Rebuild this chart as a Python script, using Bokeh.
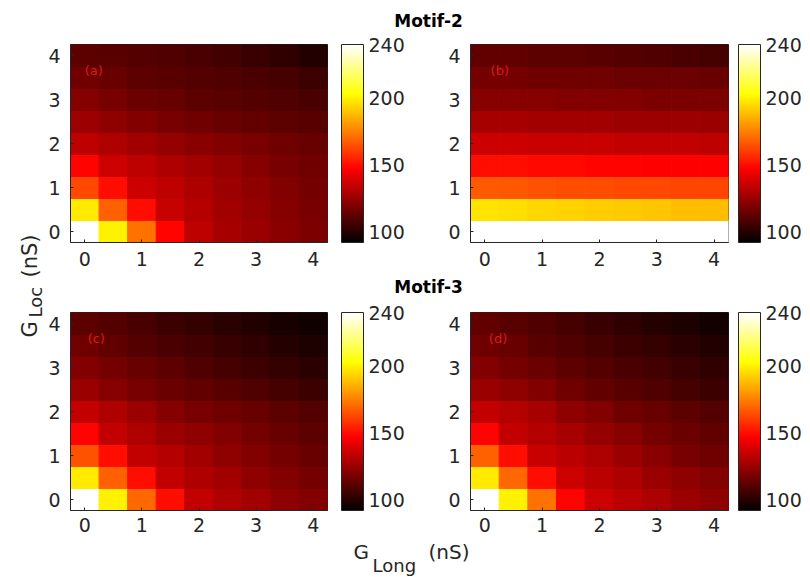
import math
import numpy as np
from bokeh.plotting import figure
from bokeh.models import (ColumnDataSource, LinearColorMapper, ColorBar,
                          FixedTicker, Range1d, Label)
from bokeh.layouts import row, column
from bokeh.transform import transform
from bokeh.embed import file_html
from bokeh.resources import INLINE

# ---------------- data ----------------
g_values = [0, 0.5, 1, 1.5, 2, 2.5, 3, 3.5, 4]      # grid of G_Long (x) and G_Loc (y), nS
axis_ticks = [0, 1, 2, 3, 4]
cbar_ticks = [100, 150, 200, 240]
c_low, c_high = 92, 240

# rows: G_Loc = 0 ... 4 ; columns: G_Long = 0 ... 4
motif2_a = [
    [240, 200, 172, 148, 133, 128, 125, 122, 119],
    [198, 168, 150, 135, 131, 127, 124, 121, 118],
    [163, 150, 136, 133, 130, 126, 123, 120, 117],
    [148, 136, 133, 130, 127, 124, 121, 118, 116],
    [133, 130, 127, 124, 122, 120, 118, 116, 114],
    [126, 123, 120, 118, 116, 114, 113, 112, 111],
    [121, 118, 115, 114, 112, 111, 110, 109, 108],
    [116, 114, 112, 111, 110, 109, 108, 107, 105],
    [112, 111, 110, 109, 108, 106, 104, 102, 99],
]
motif2_b = [
    [240, 240, 240, 240, 240, 240, 240, 240, 240],
    [197, 196, 194, 193, 192, 191, 190, 189, 188],
    [167, 166, 165, 164, 164, 163, 163, 162, 162],
    [150, 150, 149, 149, 148, 148, 147, 147, 147],
    [136, 136, 135, 135, 135, 134, 134, 134, 133],
    [128, 128, 127, 127, 127, 126, 126, 126, 125],
    [121, 121, 121, 120, 120, 120, 119, 119, 119],
    [117, 117, 116, 116, 116, 115, 115, 115, 114],
    [113, 113, 112, 112, 111, 110, 109, 108, 107],
]
motif3_c = [
    [240, 200, 170, 150, 134, 130, 127, 123, 120],
    [198, 168, 150, 134, 130, 127, 123, 120, 117],
    [165, 150, 134, 131, 127, 123, 120, 117, 114],
    [148, 134, 130, 125, 123, 120, 117, 114, 112],
    [134, 130, 125, 121, 118, 116, 114, 112, 110],
    [125, 121, 118, 115, 113, 111, 109, 107, 105],
    [120, 117, 114, 112, 109, 107, 105, 103, 101],
    [116, 113, 110, 108, 106, 104, 102, 100, 98],
    [112, 110, 108, 105, 103, 101, 99, 97, 95],
]
motif3_d = [
    [240, 200, 172, 148, 136, 132, 129, 125, 123],
    [198, 170, 150, 136, 132, 129, 125, 123, 120],
    [168, 150, 135, 132, 129, 125, 122, 118, 116],
    [148, 134, 131, 128, 124, 121, 117, 115, 113],
    [134, 131, 128, 123, 120, 116, 114, 112, 110],
    [125, 123, 120, 116, 113, 111, 109, 107, 105],
    [120, 117, 115, 112, 110, 108, 106, 104, 102],
    [116, 114, 111, 109, 107, 105, 103, 101, 99],
    [113, 111, 109, 107, 104, 102, 100, 98, 96],
]
panel_tags = ["(a)", "(b)", "(c)", "(d)"]
titles = ["Motif-2", "Motif-3"]

# ---------------- style ----------------
FONT = "DejaVu Sans"
AX = "#262626"
TICK_SIZE = "19px"
FRAME_H = 198


def hot_palette(m=256):
    n = int(3 * m / 8)
    r = np.concatenate([np.arange(1, n + 1) / n, np.ones(m - n)])
    g = np.concatenate([np.zeros(n), np.arange(1, n + 1) / n, np.ones(m - 2 * n)])
    b = np.concatenate([np.zeros(2 * n), np.arange(1, m - 2 * n + 1) / (m - 2 * n)])
    return ["#%02x%02x%02x" % (int(round(rr * 255)), int(round(gg * 255)), int(round(bb * 255)))
            for rr, gg, bb in zip(r, g, b)]


mapper = LinearColorMapper(palette=hot_palette(), low=c_low, high=c_high)


def heat_fig(grid, tag, tag_x, w, h, bl, br, bt, bb, cb_dx, x_standoff):
    xs, ys, vs = [], [], []
    for j, yv in enumerate(g_values):
        for i, xv in enumerate(g_values):
            xs.append(xv)
            ys.append(yv)
            vs.append(grid[j][i])
    src = ColumnDataSource(dict(x=xs, y=ys, v=vs))
    p = figure(width=w, height=h, x_range=Range1d(-0.25, 4.25), y_range=Range1d(-0.25, 4.25),
               output_backend="svg", toolbar_location=None,
               min_border_left=bl, min_border_right=br, min_border_top=bt, min_border_bottom=bb)
    p.rect("x", "y", width=0.5, height=0.5, source=src,
           fill_color=transform("v", mapper), line_color=transform("v", mapper), line_width=1)
    p.grid.visible = False
    p.outline_line_color = AX
    p.outline_line_width = 1
    for ax in (p.xaxis[0], p.yaxis[0]):
        ax.ticker = FixedTicker(ticks=axis_ticks)
        ax.major_label_text_font = FONT
        ax.major_label_text_font_size = TICK_SIZE
        ax.major_label_text_color = AX
        ax.axis_line_color = AX
        ax.major_tick_line_color = AX
        ax.major_tick_in = 3
        ax.major_tick_out = 0
        ax.minor_tick_line_color = None
    p.xaxis.major_label_standoff = x_standoff
    p.yaxis.major_label_standoff = 10
    p.add_layout(Label(x=tag_x, y=3.49, text=tag, text_font=FONT, text_font_size="13px",
                       text_baseline="bottom", text_color="#d41c1c"))
    cb = ColorBar(color_mapper=mapper, ticker=FixedTicker(ticks=cbar_ticks), width=22, height=FRAME_H,
                  location=(cb_dx, 0), margin=0, padding=0, label_standoff=5,
                  major_label_text_font=FONT, major_label_text_font_size=TICK_SIZE,
                  major_label_text_color=AX, major_tick_line_color=None,
                  bar_line_color=AX, background_fill_alpha=0, border_line_color=None)
    p.add_layout(cb, "right")
    return p


def text_fig(w, h):
    p = figure(width=w, height=h, x_range=Range1d(0, w), y_range=Range1d(0, h),
               x_axis_type=None, y_axis_type=None, output_backend="svg",
               toolbar_location=None, min_border=0, outline_line_color=None)
    p.grid.visible = False
    return p


def add_text(p, x, y, text, size, angle=0.0, bold=False, align="left", color=AX):
    p.add_layout(Label(x=x, y=y, text=text, angle=angle, text_font=FONT,
                       text_font_size=size, text_font_style="bold" if bold else "normal",
                       text_align=align, text_baseline="bottom", text_color=color))


# row 1 (y 30-276): frames at y 44-242 ; row 2 (y 302-540): frames at y 312-510
pa = heat_fig(motif2_a, panel_tags[0], 0.0, 395, 246, 23, 113, 14, 34, 14, 9)
pb = heat_fig(motif2_b, panel_tags[1], 0.1, 370, 246, 30, 82, 14, 34, 10, 9)
pc = heat_fig(motif3_c, panel_tags[2], 0.05, 395, 238, 23, 113, 10, 30, 14, 7)
pd = heat_fig(motif3_d, panel_tags[3], 0.07, 370, 238, 30, 82, 10, 30, 10, 7)

# titles
t2 = text_fig(765, 30)
add_text(t2, 383, -0.5, titles[0], "17px", bold=True, align="center", color="black")
t3 = text_fig(765, 26)
add_text(t3, 383, 5.5, titles[1], "17px", bold=True, align="center", color="black")

# x label (y 540-577)
xl = text_fig(765, 37)
add_text(xl, 308, 14, "G", "20px")
add_text(xl, 327, 1.4, "Long", "18px")
add_text(xl, 383, 14, "(nS)", "20px")

# y label
yl = text_fig(45, 577)
add_text(yl, 41.5, 240, "G", "21px", angle=math.pi / 2)
add_text(yl, 45, 260, "Loc", "18px", angle=math.pi / 2)
add_text(yl, 41.5, 300, "(nS)", "21px", angle=math.pi / 2)

layout = row(yl, column(t2, row(pa, pb, spacing=0), t3, row(pc, pd, spacing=0), xl, spacing=0),
             spacing=0)

open("out.html", "w").write(file_html(layout, INLINE))
